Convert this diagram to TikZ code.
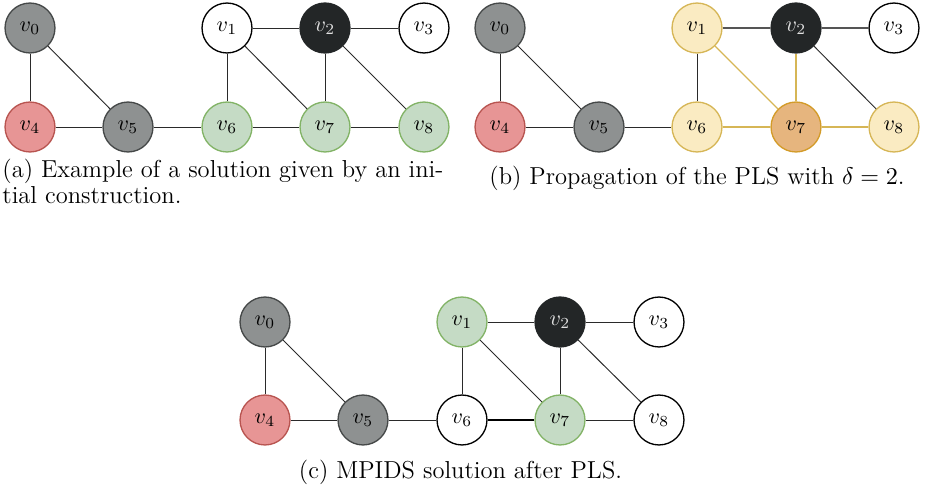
\documentclass[tikz,border=0pt]{standalone}
\definecolor{gfill}{HTML}{8E9191}
\definecolor{gdraw}{HTML}{454848}
\definecolor{dfill}{HTML}{232627}
\definecolor{rfill}{HTML}{E79595}
\definecolor{rdraw}{HTML}{B85450}
\definecolor{grfill}{HTML}{C5DBC5}
\definecolor{grdraw}{HTML}{82B366}
\definecolor{yfill}{HTML}{FAEBC2}
\definecolor{ydraw}{HTML}{D6B656}
\definecolor{ofill}{HTML}{E6B57E}
\definecolor{odraw}{HTML}{D39B28}
\definecolor{edgec}{HTML}{2A2A2A}
\definecolor{edgeg}{HTML}{555555}
\begin{document}
\begin{tikzpicture}[x=0.4545pt,y=-0.4545pt,
  vx/.style={circle,draw=black,fill=white,line width=0.6pt,minimum size=22.7pt,inner sep=0pt},
  vgray/.style={vx,fill=gfill,draw=gdraw},
  vdark/.style={vx,fill=dfill,draw=dfill,text=white!88!black},
  vred/.style={vx,fill=rfill,draw=rdraw},
  vgreen/.style={vx,fill=grfill,draw=grdraw},
  vyel/.style={vx,fill=yfill,draw=ydraw},
  vor/.style={vx,fill=ofill,draw=odraw},
  ed/.style={draw=edgec,line width=0.45pt},
  edg/.style={draw=edgeg,line width=0.7pt},
  edy/.style={draw=ydraw,line width=0.55pt},
  edyt/.style={draw=ydraw,line width=0.9pt},
  edt/.style={draw=black,line width=0.9pt},
  capt/.style={inner sep=0pt,font=\fontsize{11.15}{11.8}\selectfont}]
\useasboundingbox (0,0) rectangle (925,486);
% ---------- panel (a)
\node[vgray]  (a0) at (30,28)  {$v_0$};
\node[vx]     (a1) at (227,28) {$v_1$};
\node[vdark]  (a2) at (325,28) {$v_2$};
\node[vx]     (a3) at (424,28) {$v_3$};
\node[vred]   (a4) at (30,127) {$v_4$};
\node[vgray]  (a5) at (128,127) {$v_5$};
\node[vgreen] (a6) at (227,127) {$v_6$};
\node[vgreen] (a7) at (325,127) {$v_7$};
\node[vgreen] (a8) at (424,127) {$v_8$};
\foreach \s/\t in {0/4,0/5,4/5,5/6,1/2,2/3,1/6,1/7,2/7,2/8,6/7,7/8}
  \draw[ed] (a\s) -- (a\t);
\node[capt,anchor=base west] (capa1) at (2,178) {(a) Example of a solution given by an ini-};
\node[capt,anchor=base west] (capa2) at (2,204) {tial construction.};
% ---------- panel (b)
\node[vgray]  (b0) at (500,28)  {$v_0$};
\node[vyel]   (b1) at (697,28)  {$v_1$};
\node[vdark]  (b2) at (796,28)  {$v_2$};
\node[vx]     (b3) at (894,28)  {$v_3$};
\node[vred]   (b4) at (500,127) {$v_4$};
\node[vgray]  (b5) at (599,127) {$v_5$};
\node[vyel]   (b6) at (697,127) {$v_6$};
\node[vor]    (b7) at (796,127) {$v_7$};
\node[vyel]   (b8) at (894,127) {$v_8$};
\foreach \s/\t in {0/4,0/5,4/5,5/6,1/6,2/8}
  \draw[ed] (b\s) -- (b\t);
\draw[edg] (b1) -- (b2);
\draw[edg] (b2) -- (b3);
\draw[edy] (b1) -- (b7);
\draw[edy] (b2) -- (b7);
\draw[edyt] (b6) -- (b7);
\draw[edy] (b7) -- (b8);
\node[capt,anchor=base] (capb) at (697,185) {(b) Propagation of the PLS with $\delta=2$.};
% ---------- panel (c)
\node[vgray]  (c0) at (265,322) {$v_0$};
\node[vgreen] (c1) at (462,322) {$v_1$};
\node[vdark]  (c2) at (560,322) {$v_2$};
\node[vx]     (c3) at (659,322) {$v_3$};
\node[vred]   (c4) at (265,420) {$v_4$};
\node[vgray]  (c5) at (363,420) {$v_5$};
\node[vx]     (c6) at (462,420) {$v_6$};
\node[vgreen] (c7) at (560,420) {$v_7$};
\node[vx]     (c8) at (659,420) {$v_8$};
\foreach \s/\t in {0/4,0/5,4/5,5/6,1/2,2/3,1/6,1/7,2/7,2/8,7/8}
  \draw[ed] (c\s) -- (c\t);
\draw[edt] (c6) -- (c7);
\node[capt,anchor=base] (capc) at (460.5,478) {(c) MPIDS solution after PLS.};
\end{tikzpicture}
\end{document}
